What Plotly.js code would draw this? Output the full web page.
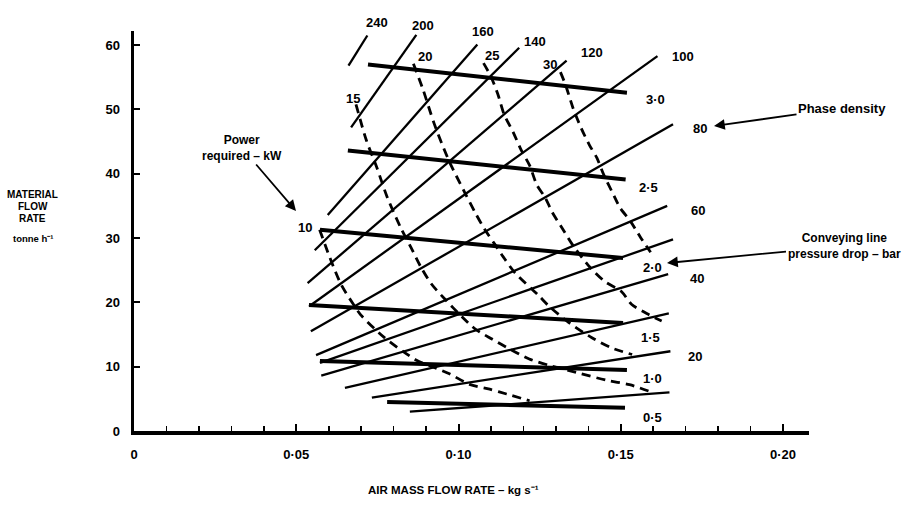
<!DOCTYPE html>
<html>
<head>
<meta charset="utf-8">
<script src="https://cdn.plot.ly/plotly-3.0.1.min.js"></script>
<style>html,body{margin:0;padding:0;background:#fff;}#chart{width:918px;height:512px;}</style>
</head>
<body>
<div id="chart"></div>
<script>
// ---- Phase density lines (solid) ----
const pdLabels = ['240','200','160','140','120','100','80','60','50','40','30','20','10'];
const pdX0 = [0.0661,0.0669,0.0597,0.0557,0.0535,0.0540,0.0545,0.0561,0.0573,0.0577,0.0650,0.0733,0.0850];
const pdY0 = [56.8,47.2,33.6,28.1,23.0,19.4,15.5,11.8,10.6,8.6,6.7,5.2,3.0];
const pdX1 = [0.0719,0.0870,0.1058,0.1187,0.1333,0.1613,0.1661,0.1643,0.1661,0.1646,0.1648,0.1653,0.1650];
const pdY1 = [61.5,61.6,60.1,59.6,57.6,58.3,47.7,35.0,29.8,24.4,18.3,12.4,6.0];

// ---- Conveying line pressure drop lines (bar) ----
const dpLabels = ['3·0','2·5','2·0','1·5','1·0','0·5'];
const dpX0 = [0.0721,0.0659,0.0573,0.0539,0.0573,0.0780];
const dpY0 = [57.0,43.6,31.3,19.6,10.9,4.5];
const dpX1 = [0.1519,0.1515,0.1507,0.1507,0.1519,0.1513];
const dpY1 = [52.6,39.1,26.9,16.8,9.5,3.6];

// ---- Power required curves (kW, dashed) ----
const kwLabels = ['10','15','20','25','30'];
const kw10X = [0.0572,0.0607,0.0639,0.0676,0.0698,0.0770,0.0869,0.0919,0.0972,0.1034,0.1096,0.1148,0.1219];
const kw10Y = [31.3,26.5,22.7,19.7,18.1,14.6,11.05,10.0,8.9,7.25,6.5,5.75,4.7];
const kw15X = [0.0684,0.0716,0.0748,0.0780,0.0821,0.0853,0.0884,0.0916,0.0960,0.1010,0.1053,0.1103,0.1156,0.1218,0.1280,0.1363,0.1456,0.1527,0.1589];
const kw15Y = [50.8,45.2,41.0,36.4,31.7,28.6,25.5,22.9,20.4,17.8,15.8,14.3,12.8,11.2,10.2,9.1,7.9,7.2,6.15];
const kw20X = [0.0861,0.0890,0.0925,0.0969,0.1020,0.1052,0.1080,0.1111,0.1143,0.1174,0.1246,0.1277,0.1339,0.1411,0.1473,0.1535];
const kw20Y = [57.1,53.2,47.8,42.2,37.0,33.9,31.4,29.1,26.7,24.6,21.1,19.5,16.9,14.5,12.9,11.9];
const kw25X = [0.1077,0.1099,0.1121,0.1140,0.1169,0.1194,0.1219,0.1242,0.1267,0.1289,0.1320,0.1352,0.1408,0.1452,0.1502,0.1533,0.1586,0.1626];
const kw25Y = [57.2,55.2,52.4,49.3,46.4,43.6,41.3,38.2,36.3,34.0,31.5,28.9,25.3,23.2,21.7,19.7,18.1,17.1];
const kw30X = [0.1314,0.1330,0.1353,0.1378,0.1403,0.1426,0.1448,0.1473,0.1498,0.1530,0.1561,0.1592];
const kw30Y = [55.8,53.8,50.2,47.1,44.5,42.5,39.8,37.2,34.7,32.6,30.1,27.8];

// ---- Axis ticks ----
const xTickVals = [0,0.05,0.10,0.15,0.20];
const xTickText = ['0','0·05','0·10','0·15','0·20'];
const yTickVals = [0,10,20,30,40,50,60];
const yTickText = ['0','10','20','30','40','50','60'];

const FONT = 'Liberation Sans, Arial, sans-serif';
const traces = [];
for (let i = 0; i < pdLabels.length; i++) {
  traces.push({x:[pdX0[i],pdX1[i]], y:[pdY0[i],pdY1[i]], mode:'lines', name:'Phase density '+pdLabels[i],
    line:{color:'#000', width:2.3}, hoverinfo:'skip', showlegend:false});
}
for (let i = 0; i < dpLabels.length; i++) {
  traces.push({x:[dpX0[i],dpX1[i]], y:[dpY0[i],dpY1[i]], mode:'lines', name:'Pressure drop '+dpLabels[i],
    line:{color:'#000', width:4}, hoverinfo:'skip', showlegend:false});
}
const kwX = [kw10X,kw15X,kw20X,kw25X,kw30X];
const kwY = [kw10Y,kw15Y,kw20Y,kw25Y,kw30Y];
for (let i = 0; i < kwLabels.length; i++) {
  traces.push({x:kwX[i], y:kwY[i], mode:'lines', name:'Power '+kwLabels[i]+' kW',
    line:{color:'#000', width:2.8, dash:'9px,6px', shape:'spline', smoothing:0.8}, hoverinfo:'skip', showlegend:false});
}

// layout geometry: pixel position -> paper coordinates
const L = 134, T = 31, W = 675, H = 400, XR = 0.208, YR = 62.2;
function lab(text, px, py, size, xanchor){
  return {x:(px-L)/W, y:(T+H-py)/H, xref:'paper', yref:'paper', text:'<b>'+text+'</b>', showarrow:false,
    xanchor:xanchor||'center', yanchor:'middle', font:{family:FONT, size:size||13, color:'#000'}};
}
// text annotation with an arrow: text centred at (tx,ty), arrow head at (hx,hy)
function note(text, tx, ty, hx, hy, size){
  return {x:(hx-L)/W, y:(T+H-hy)/H, xref:'paper', yref:'paper', ax:tx-hx, ay:ty-hy, text:'<b>'+text+'</b>',
    align:'center', showarrow:true, arrowhead:2, arrowsize:1.2, arrowwidth:1.8, arrowcolor:'#000',
    font:{family:FONT, size:size||12, color:'#000'}};
}

const annotations = [];
// phase density labels
const pdLabPos = [[377,22],[423,25],[483,32],[535,42],[592,52],[683,57],[700,128],[698,210],null,[697,278],null,[695,356],null];
pdLabels.forEach((t,i)=>{ if(pdLabPos[i]) annotations.push(lab(t, pdLabPos[i][0], pdLabPos[i][1], 13)); });
// pressure labels
const dpLabPos = [[655,99],[648,187],[652,267],[650,337],[652,378],[652,417]];
dpLabels.forEach((t,i)=>annotations.push(lab(t, dpLabPos[i][0], dpLabPos[i][1], 13)));
// power labels
const kwLabPos = [[305,227],[353,98],[425,56],[492,55],[550,64]];
kwLabels.forEach((t,i)=>annotations.push(lab(t, kwLabPos[i][0], kwLabPos[i][1], 13)));
// descriptive notes with arrows
annotations.push(note('Phase density', 842, 108, 714, 126, 13));
annotations.push(note('Conveying line<br>pressure drop – bar', 844, 246, 667, 263, 12));
annotations.push(note('Power<br>required – kW', 242, 148, 296, 211, 12));
// y-axis title block
annotations.push(lab('MATERIAL', 33, 194, 10));
annotations.push(lab('FLOW', 33, 206, 10));
annotations.push(lab('RATE', 33, 218, 10));
annotations.push(lab('tonne h⁻¹', 33, 238, 9.5));
// x-axis title
annotations.push(lab('AIR MASS FLOW RATE – kg s⁻¹', 453, 490, 11.5));

const layout = {
  width:918, height:512,
  margin:{l:L, r:918-L-W, t:T, b:512-T-H, pad:0},
  paper_bgcolor:'#fff', plot_bgcolor:'#fff',
  showlegend:false,
  xaxis:{range:[0,XR], showgrid:false, zeroline:false, showline:true, linecolor:'#000', linewidth:3.5,
    tickmode:'array', tickvals:xTickVals, ticktext:xTickText, ticks:'inside', ticklen:7, tickwidth:2, tickcolor:'#000',
    minor:{dtick:0.01, tick0:0, ticks:'inside', ticklen:5, tickwidth:1.6, tickcolor:'#000', showgrid:false},
    ticklabelstandoff:9, tickfont:{family:FONT, size:13, color:'#000', weight:'bold'}, fixedrange:true},
  yaxis:{range:[0,YR], showgrid:false, zeroline:false, showline:true, linecolor:'#000', linewidth:3.5,
    tickmode:'array', tickvals:yTickVals, ticktext:yTickText, ticks:'inside', ticklen:6, tickwidth:2, tickcolor:'#000',
    ticklabelstandoff:8, tickfont:{family:FONT, size:13, color:'#000', weight:'bold'}, fixedrange:true},
  annotations:annotations
};

Plotly.newPlot('chart', traces, layout, {displayModeBar:false, staticPlot:true});
</script>
</body>
</html>
